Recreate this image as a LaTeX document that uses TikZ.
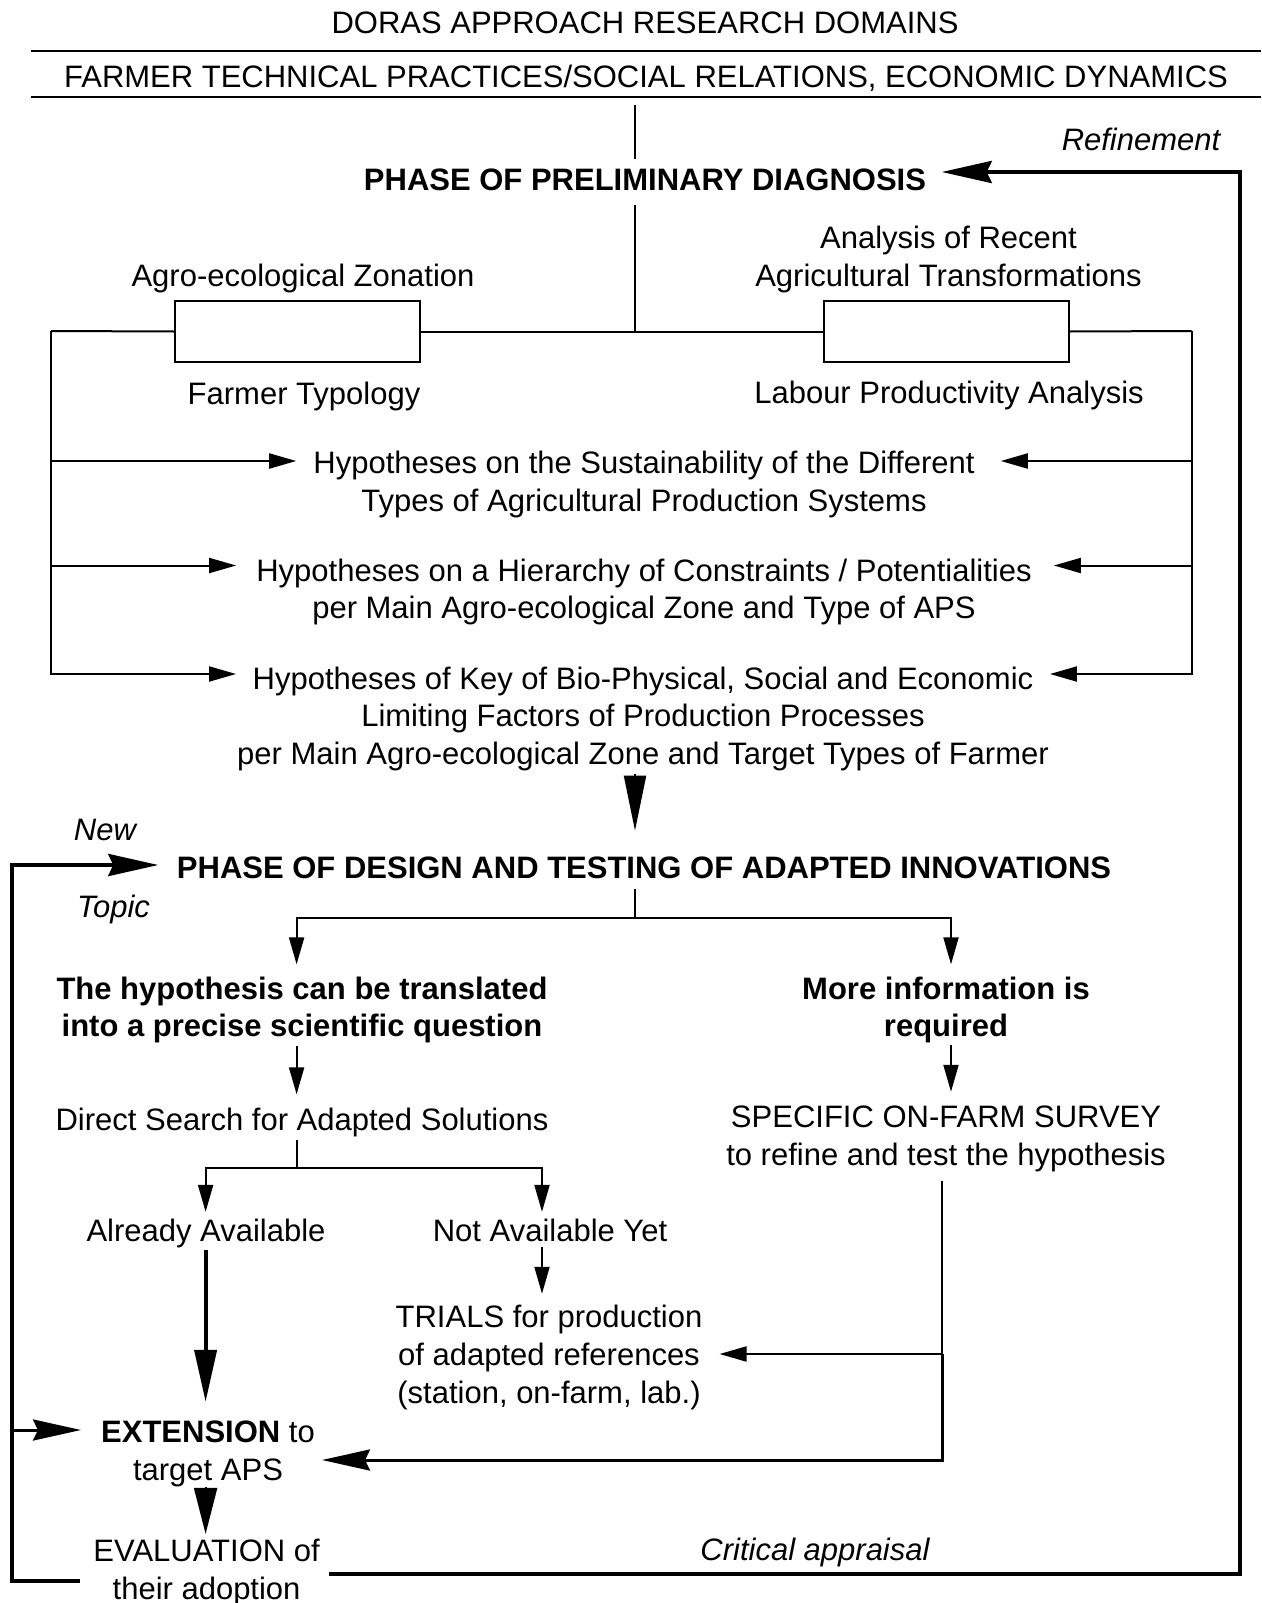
\documentclass[tikz,border=0pt]{standalone}
\usepackage{fontspec}
\setmainfont{Liberation Sans}
\usetikzlibrary{arrows.meta}
\newcommand\dfs{\fontsize{31}{37.8}\selectfont}
\begin{document}
\begin{tikzpicture}[x=1pt,y=-1pt,
  txt/.style={font=\dfs, align=center, inner sep=0pt},
  btxt/.style={txt, font=\dfs\bfseries},
  itxt/.style={txt, font=\dfs\itshape},
  ln/.style={line width=2pt},
  lnk/.style={line width=4pt},
  rulebar/.style={line width=2.5pt},
  boxnode/.style={draw, line width=2pt, minimum width=245pt, minimum height=61pt, inner sep=0pt},
  sarr/.style={ln, -{Triangle[length=27pt,width=15pt]}},
  downarr/.style={ln, -{Triangle[length=55pt,width=22pt]}},
  loopar/.style={lnk, -{Stealth[length=50pt,width=22pt,inset=5pt]}},
  thickarr/.style={lnk, -{Triangle[length=52pt,width=22pt]}},
  midarr/.style={line width=3pt, -{Stealth[length=48pt,width=21pt,inset=5pt]}},
  evalarr/.style={ln, -{Triangle[length=46pt,width=23pt]}}
]
\useasboundingbox (0,0) rectangle (1261,1603);

% ---------- text nodes ----------
\node[txt,anchor=base] (title) at (645,33.7) {DORAS APPROACH RESEARCH DOMAINS};
\node[txt,anchor=base] (domains) at (646,88) {FARMER TECHNICAL PRACTICES/SOCIAL RELATIONS, ECONOMIC DYNAMICS};
\node[btxt,anchor=base] (phase1) at (645,190) {PHASE OF PRELIMINARY DIAGNOSIS};
\node[itxt,anchor=base] (refine) at (1141,150) {Refinement};

\node[boxnode] (boxA) at (297.5,331.5) {};
\node[boxnode] (boxB) at (946,331.5) {};
\node[txt,anchor=base] (zon) at (303,286) {Agro-ecological Zonation};
\node[txt,anchor=base] (typ) at (304,404) {Farmer Typology};
\node[txt] (ana) at (948.5,259.2) {Analysis of Recent\\Agricultural Transformations};
\node[txt,anchor=base] (lab) at (949,403) {Labour Productivity Analysis};

\node[txt] (hyp1) at (644,484.2) {Hypotheses on the Sustainability of the Different\\Types of Agricultural Production Systems};
\node[txt] (hyp2) at (644,591.9) {Hypotheses on a Hierarchy of Constraints / Potentialities\\per Main Agro-ecological Zone and Type of APS};
\node[txt] (hyp3) at (643,718.9) {Hypotheses of Key of Bio-Physical, Social and Economic\\Limiting Factors of Production Processes\\per Main Agro-ecological Zone and Target Types of Farmer};

\node[itxt,anchor=base] (new) at (105,840) {New};
\node[itxt,anchor=base] (topic) at (113.5,917) {Topic};
\node[btxt,anchor=base] (phase2) at (644,878.5) {PHASE OF DESIGN AND TESTING OF ADAPTED INNOVATIONS};

\node[btxt] (hypo) at (302,1009.9) {The hypothesis can be translated\\into a precise scientific question};
\node[btxt] (more) at (946,1009.9) {More information is\\required};
\node[txt,anchor=base] (direct) at (302,1130) {Direct Search for Adapted Solutions};
\node[txt] (survey) at (946,1138.9) {SPECIFIC ON-FARM SURVEY\\to refine and test the hypothesis};
\node[txt,anchor=base] (avail) at (206,1241.5) {Already Available};
\node[txt,anchor=base] (notyet) at (550,1241.5) {Not Available Yet};
\node[txt] (trials) at (549,1357.2) {TRIALS for production\\of adapted references\\(station, on-farm, lab.)};
\node[txt] (ext) at (208,1453.9) {\textbf{EXTENSION} to\\target APS};
\node[txt] (eval) at (206.6,1572.5) {EVALUATION of\\their adoption};
\node[itxt,anchor=base] (crit) at (815,1560.6) {Critical appraisal};

% ---------- coordinates ----------
\coordinate (ax) at (635,0);
\coordinate (t0) at (635,105);
\coordinate (j1) at (635,331);
\coordinate (lb0) at (51,331);
\coordinate (rb0) at (1191.5,331);
\coordinate (lb1) at (51,461);
\coordinate (rb1) at (1191.5,461);
\coordinate (lb2) at (51,565.5);
\coordinate (rb2) at (1191.5,565.5);
\coordinate (lb3) at (51,674);
\coordinate (rb3) at (1191.5,674);
\coordinate (rtc) at (1239.5,172);
\coordinate (rbc) at (1239.5,1574);
\coordinate (ltc) at (12.3,865);
\coordinate (lbc) at (12.3,1581);
\coordinate (lex) at (12.3,1430);
\coordinate (j2) at (635,918);
\coordinate (j2l) at (296.6,918);
\coordinate (j2r) at (951,918);
\coordinate (j3) at (296.6,1168);
\coordinate (j3l) at (205.6,1168);
\coordinate (j3r) at (542,1168);
\coordinate (sv) at (942,0);
\coordinate (sv1) at (942,1354);
\coordinate (sv2) at (942,1460);

% ---------- rules ----------
\draw[rulebar] (31,51) -- (1261,51);
\draw[rulebar] (31,97) -- (1261,97);

% ---------- connectors ----------
\draw[ln,shorten >=9pt] (t0) -- (ax |- phase1.north);
\draw[ln,shorten <=14pt] (ax |- phase1.south) -- (j1);
\draw[ln] (lb0) -- (boxA.west);
\draw[ln] (boxA.east) -- (boxB.west);
\draw[ln] (boxB.east) -- (rb0);

\draw[sarr,shorten >=17pt] (lb1) -- (hyp1.west |- lb1);
\draw[sarr,shorten >=26pt] (rb1) -- (hyp1.east |- rb1);
\draw[sarr,shorten >=20pt] (lb2) -- (hyp2.west |- lb2);
\draw[sarr,shorten >=22pt] (rb2) -- (hyp2.east |- rb2);
\draw[sarr,shorten >=1pt] (lb0) -- (lb3) -- (hyp3.west |- lb3);
\draw[sarr,shorten >=1pt] (rb0) -- (rb3) -- (hyp3.east |- rb3);

\draw[downarr,shorten <=3pt,shorten >=26pt] (ax |- hyp3.south) -- (ax |- phase2.north);

\draw[loopar,shorten <=9pt,shorten >=15.5pt] (eval.east |- rbc) -- (rbc) -- (rtc) -- (phase1.east |- rtc);
\draw[loopar,shorten <=13pt,shorten >=18.5pt] (eval.west |- lbc) -- (lbc) -- (ltc) -- (phase2.west |- ltc);
\draw[midarr,shorten >=20pt] (lex) -- (ext.west |- lex);

\draw[ln,shorten <=10pt] (ax |- phase2.south) -- (j2);
\draw[sarr,shorten >=12pt] (j2) -- (j2l) -- (j2l |- hypo.north);
\draw[sarr,shorten >=12pt] (j2) -- (j2r) -- (j2r |- more.north);

\draw[sarr,shorten <=2.5pt,shorten >=13pt] (j2l |- hypo.south) -- (j2l |- direct.north);
\draw[sarr,shorten <=1.5pt,shorten >=14pt] (j2r |- more.south) -- (j2r |- survey.north);

\draw[ln,shorten <=3.5pt] (j2l |- direct.south) -- (j3);
\draw[sarr,shorten >=7pt] (j3) -- (j3l) -- (j3l |- avail.north);
\draw[sarr,shorten >=7pt] (j3) -- (j3r) -- (j3r |- notyet.north);

\draw[thickarr,shorten <=2pt,shorten >=19pt] (j3l |- avail.south) -- (j3l |- ext.north);
\draw[sarr,shorten <=5pt,shorten >=11pt] (j3r |- notyet.south) -- (j3r |- trials.north);

\draw[ln,shorten <=8.5pt] (sv |- survey.south) -- (sv1);
\draw[sarr,shorten >=17pt] (sv1) -- (trials.east |- sv1);
\draw[midarr,shorten >=7pt] (sv1) -- (sv2) -- (ext.east |- sv2);

\draw[evalarr,shorten >=5pt] (j3l |- ext.south) -- (j3l |- eval.north);
\end{tikzpicture}
\end{document}
